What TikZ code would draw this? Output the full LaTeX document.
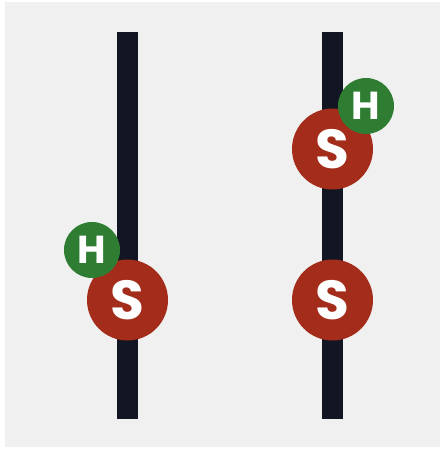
\documentclass[tikz,border=0pt]{standalone}
\usepackage{fontspec}
\setmainfont{Poppins}
\definecolor{bg}{HTML}{F0F0F0}
\definecolor{barc}{HTML}{111622}
\definecolor{sred}{HTML}{A32D1A}
\definecolor{hgreen}{HTML}{2E7D32}
\tikzset{
  sball/.style={circle, fill=sred, minimum size=81pt, inner sep=0pt, text=white, font=\fontsize{55}{55}\selectfont\bfseries},
  hball/.style={circle, fill=hgreen, minimum size=56pt, inner sep=0pt, text=white, font=\fontsize{39}{39}\selectfont\bfseries},
  rail/.style={fill=barc}
}
\begin{document}
\begin{tikzpicture}[x=1pt,y=-1pt]
\useasboundingbox (0,0) rectangle (440,449);
\fill[white] (0,0) rectangle (440,449);
\fill[bg] (5,2) rectangle (440,447);
% rails
\fill[rail] (117,32) rectangle (138,419);
\fill[rail] (322,32) rectangle (343,419);
% left molecule
\node[sball] (s1) at (127.5,300) {S};
\node[hball] (h1) at (92,250) {H};
% right molecules
\node[sball] (s2) at (332.5,149) {S};
\node[hball] (h2) at (366,106) {H};
\node[sball] (s3) at (332.5,300) {S};
\end{tikzpicture}
\end{document}
